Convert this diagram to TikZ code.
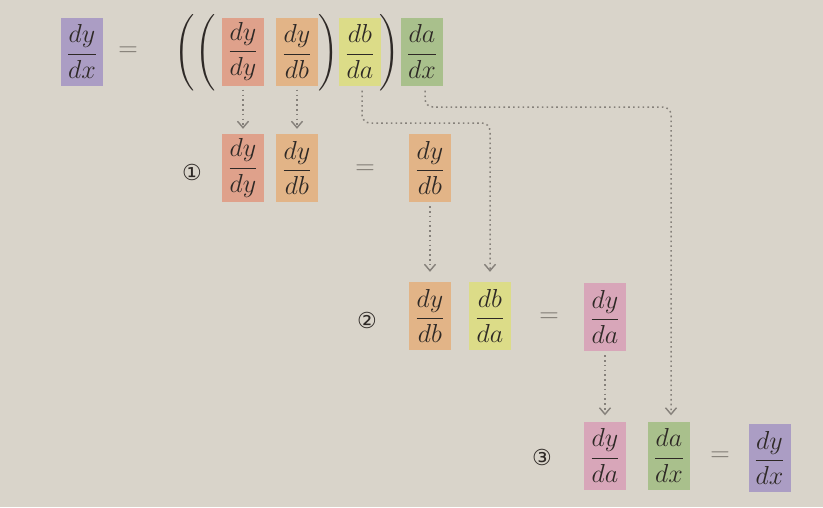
\documentclass[tikz,border=0pt]{standalone}
\usepackage{fix-cm}
\usepackage{fontspec}
\newfontfamily\dejavu{DejaVu Sans}
\usetikzlibrary{arrows.meta}
\definecolor{bg}{HTML}{D9D4CA}
\definecolor{ink}{HTML}{2E2926}
\definecolor{eqgray}{HTML}{77726B}
\definecolor{arrowgray}{HTML}{85807A}
\definecolor{cpurple}{HTML}{AB9DC4}
\definecolor{cred}{HTML}{DFA18B}
\definecolor{corange}{HTML}{E2B487}
\definecolor{cyellow}{HTML}{DCDC88}
\definecolor{cgreen}{HTML}{A9C08C}
\definecolor{cpink}{HTML}{D8A6B9}
\newcommand{\bigpar}[1]{\scalebox{2.55}{\fontsize{10}{12}\selectfont$\Bigg#1$}}
\tikzset{
  frac/.style={minimum width=42pt, minimum height=68pt, inner sep=0pt, text=ink,
    font=\fontsize{26}{30}\selectfont},
  eqsign/.style={text=eqgray, inner sep=0pt, font=\fontsize{27}{30}\selectfont},
  paren/.style={text=ink, inner sep=0pt},
  circnum/.style={text=ink, inner sep=0pt, font=\dejavu\fontsize{22}{24}\selectfont},
  arr/.style={draw=arrowgray, line width=1.5pt, dash pattern=on 1.6pt off 3.2pt,
    rounded corners=8pt,
    -{Straight Barb[length=6.5pt,width=11pt,line width=1.4pt]}}
}
\begin{document}
\begin{tikzpicture}[x=1pt,y=-1pt]
\fill[bg] (0,0) rectangle (823,507);
\useasboundingbox (0,0) rectangle (823,507);
% top row
\node[frac, fill=cpurple] (T0) at (82,51.5) {$\displaystyle\frac{dy}{dx}$};
\node[eqsign] (E0) at (128,51.5) {$=$};
\node[paren] (P1) at (185,53) {\bigpar(};
\node[paren] (P2) at (206,53) {\bigpar(};
\node[frac, fill=cred] (T1) at (243,51.5) {$\displaystyle\frac{dy}{dy}$};
\node[frac, fill=corange] (T2) at (297,51.5) {$\displaystyle\frac{dy}{db}$};
\node[paren] (P3) at (329,53) {\bigpar)};
\node[frac, fill=cyellow] (T3) at (360,51.5) {$\displaystyle\frac{db}{da}$};
\node[paren] (P4) at (390,53) {\bigpar)};
\node[frac, fill=cgreen] (T4) at (422,51.5) {$\displaystyle\frac{da}{dx}$};
% row 1
\node[circnum] (C1) at (192,172) {①};
\node[frac, fill=cred] (R1a) at (243,168) {$\displaystyle\frac{dy}{dy}$};
\node[frac, fill=corange] (R1b) at (297,168) {$\displaystyle\frac{dy}{db}$};
\node[eqsign] (E1) at (365,170) {$=$};
\node[frac, fill=corange] (R1c) at (430,168) {$\displaystyle\frac{dy}{db}$};
% row 2
\node[circnum] (C2) at (367,320) {②};
\node[frac, fill=corange] (R2a) at (430,316) {$\displaystyle\frac{dy}{db}$};
\node[frac, fill=cyellow] (R2b) at (490,316) {$\displaystyle\frac{db}{da}$};
\node[eqsign] (E2) at (549,318) {$=$};
\node[frac, fill=cpink] (R2c) at (605,317) {$\displaystyle\frac{dy}{da}$};
% row 3
\node[circnum] (C3) at (542,457) {③};
\node[frac, fill=cpink] (R3a) at (605,455.5) {$\displaystyle\frac{dy}{da}$};
\node[frac, fill=cgreen] (R3b) at (669,455.5) {$\displaystyle\frac{da}{dx}$};
\node[eqsign] (E3) at (720,457) {$=$};
\node[frac, fill=cpurple] (R3c) at (769.5,458) {$\displaystyle\frac{dy}{dx}$};
% routing levels
\coordinate (h1) at (0,123);
\coordinate (h2) at (0,107);
\coordinate (vA) at (362,0);
\coordinate (vB) at (425,0);
\coordinate (vC) at (671,0);
% arrows
\draw[arr] ([yshift=-4pt]T1.south) -- ([yshift=5pt]R1a.north);
\draw[arr] ([yshift=-4pt]T2.south) -- ([yshift=5pt]R1b.north);
\draw[arr] ([yshift=-5pt]T3.south -| vA) -- (vA |- h1) -- (R2b.north |- h1) -- ([yshift=10pt]R2b.north);
\draw[arr] ([yshift=-5pt]T4.south -| vB) -- (vB |- h2) -- (vC |- h2) -- ([yshift=6pt]R3b.north -| vC);
\draw[arr] ([yshift=-4pt]R1c.south) -- ([yshift=10pt]R2a.north);
\draw[arr] ([yshift=-4pt]R2c.south) -- ([yshift=6pt]R3a.north);
\end{tikzpicture}
\end{document}
